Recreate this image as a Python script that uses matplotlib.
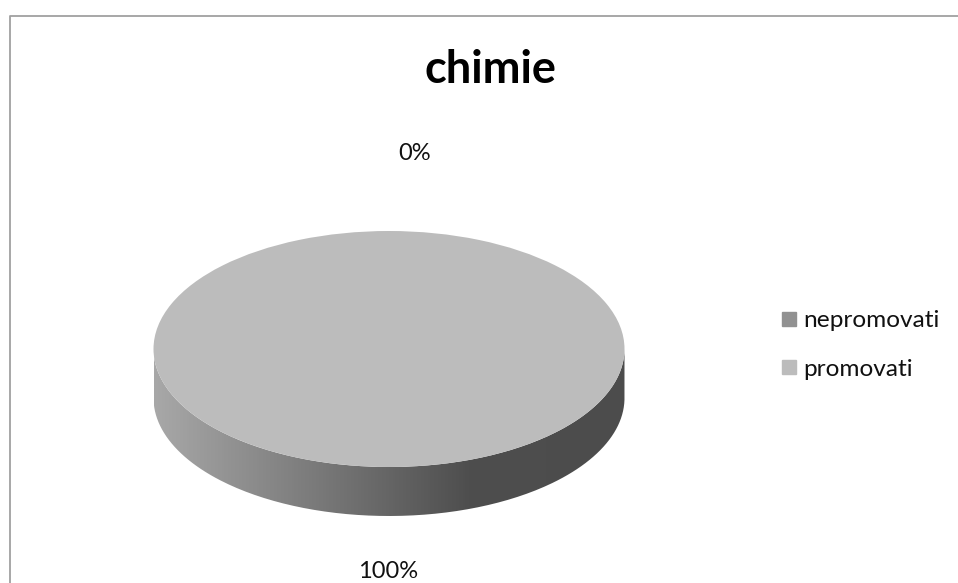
import numpy as np
import matplotlib
matplotlib.use("Agg")
import matplotlib.pyplot as plt
from matplotlib.lines import Line2D
from matplotlib.patches import PathPatch
from matplotlib.path import Path
from matplotlib.colors import LinearSegmentedColormap

title = "chimie"
categories = ["nepromovati", "promovati"]
values = [0, 100]
colors = ["#919191", "#bcbcbc"]

W, H = 958, 583
plt.rcParams['font.family'] = ['Lato', 'DejaVu Sans']
fig = plt.figure(figsize=(W / 100, H / 100), dpi=100, facecolor="white")

def fx(x): return x / W
def fy(y): return 1 - y / H

# chart frame (top and left edges visible)
fig.add_artist(Line2D([fx(9.5), fx(9.5), 1], [0, fy(15.5), fy(15.5)], color="#a0a0a0", lw=1.3,
                      transform=fig.transFigure))

# pie top face occupies L..R, T..B; the axes extends down to include the wall
L, R, T, B = 153.5, 624.5, 231, 467
depth = 49
d = depth / ((B - T) / 2)
ax = fig.add_axes([fx(L), fy(B + depth), (R - L) / W, (B + depth - T) / H])

# 3D side wall with gradient
th = np.linspace(np.pi, 2 * np.pi, 200)
xs = np.cos(th); ys = np.sin(th)
vx = np.r_[xs, xs[::-1], xs[0]]
vy = np.r_[ys, ys[::-1] - d, ys[0]]
wall = PathPatch(Path(np.c_[vx, vy]), fc="none", ec="none", transform=ax.transData)
ax.add_patch(wall)
cmap = LinearSegmentedColormap.from_list("wall", [(0, "#a8a8a8"), (0.67, "#4e4e4e"), (1, "#4c4c4c")])
img = ax.imshow(np.linspace(0, 1, 512)[None, :], extent=(-1, 1, -1 - d, 1), cmap=cmap, aspect="auto",
                zorder=1)
img.set_clip_path(wall)

wedges, _ = ax.pie(values, colors=colors, startangle=90, counterclock=False, radius=1,
                   wedgeprops=dict(linewidth=0))
for w in wedges:
    w.set_zorder(3)
ax.set_aspect("auto")
ax.set_xlim(-1, 1)
ax.set_ylim(-1 - d, 1)
ax.axis("off")

# title and data labels
fig.text(fx(490), fy(70), title, ha="center", va="center", fontsize=32.5, fontweight="bold", color="#000000")
fig.text(fx(415), fy(153), f"{values[0]}%", ha="center", va="center", fontsize=17, color="#111111")
fig.text(fx(388), fy(571), f"{values[1]}%", ha="center", va="center", fontsize=17, color="#111111")

# legend
handles = [Line2D([], [], marker="s", ls="none", ms=10.5, mfc=c, mec=c) for c in colors]
fig.legend(handles, categories, loc="center left", bbox_to_anchor=(fx(774), fy(345)), frameon=False,
           fontsize=17.6, labelspacing=1.11, handletextpad=0.0, handlelength=1.2, labelcolor="#111111",
           borderpad=0, borderaxespad=0)

fig.savefig("out.png", dpi=100, facecolor="white")
